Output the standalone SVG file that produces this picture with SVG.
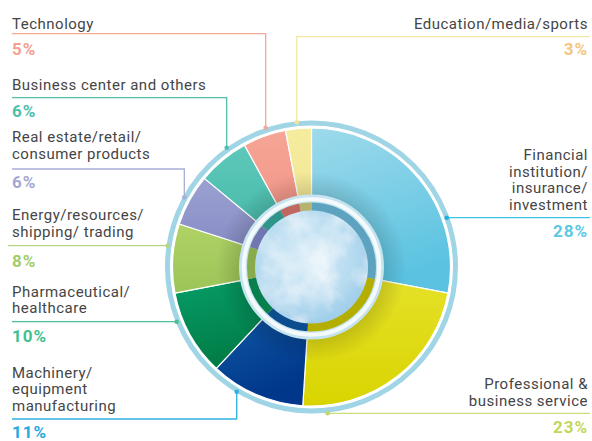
<svg xmlns="http://www.w3.org/2000/svg" width="592" height="441" viewBox="0 0 592 441">
<style>
.lbl{font-family:Roboto,"Liberation Sans",sans-serif;font-size:15px;fill:#454545;letter-spacing:0.5px}
.r{text-anchor:end}
.pct{font-family:Roboto,"Liberation Sans",sans-serif;font-size:17px;font-weight:bold;letter-spacing:1px}
.sl{stroke:#fff;stroke-width:1.2;stroke-linejoin:round}
.dk{stroke:none}
.cn{fill:none;stroke-width:1.3}
</style>
<defs>
<linearGradient id="gFin" x1="0" y1="0" x2="0.3" y2="1"><stop offset="0" stop-color="#9edaeb"/><stop offset="1" stop-color="#5bc3e1"/></linearGradient>
<linearGradient id="gPro" x1="0" y1="0" x2="0" y2="1"><stop offset="0" stop-color="#e6e22c"/><stop offset="1" stop-color="#d9d400"/></linearGradient>
<linearGradient id="gMac" x1="0" y1="0" x2="0.3" y2="1"><stop offset="0" stop-color="#1766ad"/><stop offset="1" stop-color="#00378b"/></linearGradient>
<linearGradient id="gPha" x1="0" y1="0" x2="0.3" y2="1"><stop offset="0" stop-color="#06a26b"/><stop offset="1" stop-color="#027a45"/></linearGradient>
<linearGradient id="gEne" x1="0" y1="0" x2="0" y2="1"><stop offset="0" stop-color="#b0d266"/><stop offset="1" stop-color="#9cc457"/></linearGradient>
<linearGradient id="gRea" x1="0" y1="0" x2="0" y2="1"><stop offset="0" stop-color="#9ca1d2"/><stop offset="1" stop-color="#8187c1"/></linearGradient>
<linearGradient id="gBus" x1="0" y1="0" x2="0" y2="1"><stop offset="0" stop-color="#5ec8b9"/><stop offset="1" stop-color="#3fb5a6"/></linearGradient>
<linearGradient id="gTec" x1="0" y1="0" x2="0" y2="1"><stop offset="0" stop-color="#f6a596"/><stop offset="1" stop-color="#ee8d7e"/></linearGradient>
<linearGradient id="gEdu" x1="0" y1="0" x2="0" y2="1"><stop offset="0" stop-color="#f6ec9f"/><stop offset="1" stop-color="#efe38c"/></linearGradient>
<radialGradient id="shade" gradientUnits="userSpaceOnUse" cx="311.5" cy="267" r="95">
<stop offset="0.72" stop-color="#000" stop-opacity="0.16"/><stop offset="1" stop-color="#000" stop-opacity="0"/></radialGradient>
<radialGradient id="core" cx="0.45" cy="0.4" r="0.6"><stop offset="0" stop-color="#d8ecf7"/><stop offset="0.7" stop-color="#b6dbf0"/><stop offset="1" stop-color="#9fcdea"/></radialGradient>
<filter id="clouds" x="0" y="0" width="100%" height="100%">
<feTurbulence type="fractalNoise" baseFrequency="0.03" numOctaves="4" seed="7" result="n"/>
<feColorMatrix in="n" type="matrix" values="0 0 0 0 1  0 0 0 0 1  0 0 0 0 1  1.4 0 0 0 -0.5" result="w"/>
<feComposite in="w" in2="SourceGraphic" operator="in" result="wc"/>
<feMerge><feMergeNode in="SourceGraphic"/><feMergeNode in="wc"/></feMerge>
</filter>
</defs>
<rect width="592" height="441" fill="#fff"/>

<!-- outer band -->
<circle cx="311.5" cy="267" r="144" fill="none" stroke="#9fd5e5" stroke-width="5"/>
<circle cx="311.5" cy="267" r="141" fill="#fff"/>

<g id="financial">
<path class="sl" fill="url(#gFin)" d="M311.5 267 L311.5 128 A139 139 0 0 1 448.04 293.05 Z"/>
</g>
<g id="professional">
<path class="sl" fill="url(#gPro)" d="M311.5 267 L448.04 293.05 A139 139 0 0 1 302.77 405.73 Z"/>
</g>
<g id="machinery">
<path class="sl" fill="url(#gMac)" d="M311.5 267 L302.77 405.73 A139 139 0 0 1 216.35 368.33 Z"/>
</g>
<g id="pharma">
<path class="sl" fill="url(#gPha)" d="M311.5 267 L216.35 368.33 A139 139 0 0 1 174.96 293.05 Z"/>
</g>
<g id="energy">
<path class="sl" fill="url(#gEne)" d="M311.5 267 L174.96 293.05 A139 139 0 0 1 179.3 224.05 Z"/>
</g>
<g id="realestate">
<path class="sl" fill="url(#gRea)" d="M311.5 267 L179.3 224.05 A139 139 0 0 1 204.4 178.4 Z"/>
</g>
<g id="business">
<path class="sl" fill="url(#gBus)" d="M311.5 267 L204.4 178.4 A139 139 0 0 1 244.54 145.19 Z"/>
</g>
<g id="technology">
<path class="sl" fill="url(#gTec)" d="M311.5 267 L244.54 145.19 A139 139 0 0 1 285.45 130.46 Z"/>
</g>
<g id="education">
<path class="sl" fill="url(#gEdu)" d="M311.5 267 L285.45 130.46 A139 139 0 0 1 311.5 128 Z"/>
</g>

<circle cx="311.5" cy="267" r="95" fill="url(#shade)"/>

<!-- inner darker ring -->
<g id="inner-ring">
<path class="dk" fill="#5da3bf" d="M311.5 267 L311.5 202 A65 65 0 0 1 375.35 279.18 Z"/>
<path class="dk" fill="#b3ae00" d="M311.5 267 L375.35 279.18 A65 65 0 0 1 307.42 331.87 Z"/>
<path class="dk" fill="#0c4d8f" d="M311.5 267 L307.42 331.87 A65 65 0 0 1 267 314.38 Z"/>
<path class="dk" fill="#087f4d" d="M311.5 267 L267 314.38 A65 65 0 0 1 247.65 279.18 Z"/>
<path class="dk" fill="#8aab4b" d="M311.5 267 L247.65 279.18 A65 65 0 0 1 249.68 246.91 Z"/>
<path class="dk" fill="#7077b0" d="M311.5 267 L249.68 246.91 A65 65 0 0 1 261.42 225.57 Z"/>
<path class="dk" fill="#2f958a" d="M311.5 267 L261.42 225.57 A65 65 0 0 1 280.19 209.96 Z"/>
<path class="dk" fill="#c0675f" d="M311.5 267 L280.19 209.96 A65 65 0 0 1 299.32 203.15 Z"/>
<path class="dk" fill="#b5b36e" d="M311.5 267 L299.32 203.15 A65 65 0 0 1 311.5 202 Z"/>
</g>

<g id="center">
<circle cx="311.5" cy="267" r="68.5" fill="none" stroke="#c5e4ef" stroke-width="8"/>
<circle cx="311.5" cy="267" r="67.8" fill="none" stroke="#f4fafc" stroke-width="4"/>
<circle cx="311.5" cy="267" r="56.5" fill="url(#core)" filter="url(#clouds)"/>
</g>

<g id="connectors">
<path class="cn" stroke="#f4a899" d="M12 33.7 H265.7 V127.7"/>
<circle cx="265.7" cy="127.7" r="2.3" fill="#f4a899"/>
<path class="cn" stroke="#4ec0ad" d="M12 97.7 H226.7 V147.7"/>
<circle cx="226.7" cy="147.7" r="2.3" fill="#4ec0ad"/>
<path class="cn" stroke="#a9aed8" d="M12 169 H184.3 V197.3"/>
<circle cx="184.3" cy="197.3" r="2.3" fill="#a9aed8"/>
<path class="cn" stroke="#b4d682" d="M8 245.7 H167.7"/>
<circle cx="167.7" cy="245.7" r="2.3" fill="#b4d682"/>
<path class="cn" stroke="#49c095" d="M12 321.7 H176.7"/>
<circle cx="176.7" cy="321.7" r="2.3" fill="#49c095"/>
<path class="cn" stroke="#2fb0e0" d="M12 419 H236.7 V391.7"/>
<circle cx="236.7" cy="391.7" r="2.3" fill="#2fb0e0"/>
<path class="cn" stroke="#f3e8a6" d="M590 36.7 H296.7 V122.3"/>
<circle cx="296.7" cy="122.3" r="2.3" fill="#f1e49a"/>
<path class="cn" stroke="#3fc2e2" d="M446.7 217.7 H590"/>
<circle cx="446.7" cy="217.7" r="2.3" fill="#1fb2dc"/>
<path class="cn" stroke="#c9dd7a" d="M327.7 413.3 H590"/>
<circle cx="327.7" cy="413.3" r="2.3" fill="#c2d86a"/>
</g>

<g id="labels">
<text class="lbl" x="12" y="29">Technology</text>
<text class="pct" x="12" y="55" fill="#f4a08f">5%</text>
<text class="lbl" x="12" y="90">Business center and others</text>
<text class="pct" x="12" y="116.7" fill="#4ec0ad">6%</text>
<text class="lbl" x="12" y="141.7">Real estate/retail/</text>
<text class="lbl" x="12" y="158.5">consumer products</text>
<text class="pct" x="12" y="188.3" fill="#a3a8d5">6%</text>
<text class="lbl" x="12" y="220">Energy/resources/</text>
<text class="lbl" x="12" y="236.7">shipping/ trading</text>
<text class="pct" x="12" y="266.7" fill="#a2cd6a">8%</text>
<text class="lbl" x="12" y="296.7">Pharmaceutical/</text>
<text class="lbl" x="12" y="313.3">healthcare</text>
<text class="pct" x="12" y="341.7" fill="#43bf8f">10%</text>
<text class="lbl" x="12" y="377.7">Machinery/</text>
<text class="lbl" x="12" y="394">equipment</text>
<text class="lbl" x="12" y="410.7">manufacturing</text>
<text class="pct" x="12" y="437.5" fill="#2aa9de">11%</text>
<text class="lbl r" x="588" y="29">Education/media/sports</text>
<text class="pct r" x="588" y="54.5" fill="#f3c77f">3%</text>
<text class="lbl r" x="588" y="160">Financial</text>
<text class="lbl r" x="588" y="176.5">institution/</text>
<text class="lbl r" x="588" y="193">insurance/</text>
<text class="lbl r" x="588" y="209.5">investment</text>
<text class="pct r" x="588" y="237.3" fill="#5cc9e4">28%</text>
<text class="lbl r" x="588" y="389.3">Professional &amp;</text>
<text class="lbl r" x="588" y="405.7">business service</text>
<text class="pct r" x="588" y="433.3" fill="#c3d75a">23%</text>
</g>
</svg>
